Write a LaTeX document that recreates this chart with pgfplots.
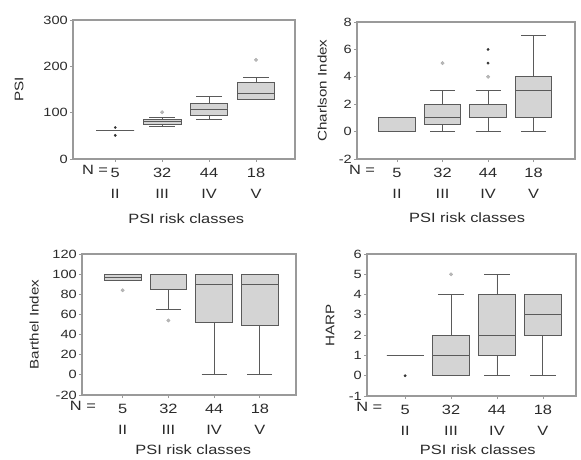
\documentclass[border=0pt]{standalone}
\usepackage{pgfplots}
\pgfplotsset{compat=1.18}
\usepgfplotslibrary{statistics}
\usepackage{fontspec}
\setmainfont{Liberation Sans}[FakeStretch=1.22]
\definecolor{framec}{HTML}{9A9A9A}
\definecolor{boxfill}{HTML}{D4D4D4}
\definecolor{boxline}{HTML}{5A5A5A}
\definecolor{txt}{HTML}{2A2A2A}
\pgfplotsset{
 panel/.style={
  scale only axis,
  axis line style={framec, line width=1.3pt},
  every tick/.style={framec, line width=0.8pt},
  tick align=outside, major tick length=3bp,
  ytick pos=left, xtick pos=bottom,
  xtick={1,2,3,4}, xticklabels={5\\II,32\\III,44\\IV,18\\V},
  xticklabel style={align=center, font=\fontsize{13.5}{21}\selectfont, text=txt, inner sep=1.5bp, yshift=-4.5bp},
  yticklabel style={font=\fontsize{12}{13}\selectfont, text=txt, inner sep=2bp},
  /pgf/number format/assume math mode=true,
  extra x tick style={major tick length=0pt},
  extra x tick labels={N =\\\phantom{I}},
  xlabel={PSI risk classes},
  xlabel style={font=\fontsize{13.5}{15}\selectfont, text=txt},
  ylabel style={font=\fontsize{12.5}{15}\selectfont, text=txt},
  boxplot/draw direction=y,
 },
 bx/.style={draw=boxline, fill=boxfill, line width=0.9pt, solid, boxplot/box extend=0.8, boxplot/whisker extend=0.55},
 outl/.style={only marks, mark=*, mark size=1.7pt, mark options={draw=gray!65, fill=gray!55}},
 extr/.style={only marks, mark=*, mark size=1.2pt, mark options={draw=black!80, fill=black!80}},
}
\begin{document}
\begin{tikzpicture}
\useasboundingbox (0,0) rectangle (581bp,-460bp);
% Panel 1: PSI
\begin{axis}[panel, at={(73bp,-20bp)}, anchor=north west, width=222bp, height=139bp,
  xmin=0.1, xmax=4.83, ymin=0, ymax=300, ytick={0,100,200,300},
  extra x ticks={0.57},
  ylabel={PSI}, ylabel style={at={(axis description cs:-0.243,0.5)}, anchor=center},
  xlabel style={at={(axis description cs:0.51,-0.43)}, anchor=center}]
\addplot[bx, boxplot prepared={draw position=1, lower whisker=62, lower quartile=62, median=62, upper quartile=62, upper whisker=62}] coordinates {};
\addplot[bx, boxplot prepared={draw position=2, lower whisker=71, lower quartile=74, median=80, upper quartile=86, upper whisker=89}] coordinates {};
\addplot[bx, boxplot prepared={draw position=3, lower whisker=86, lower quartile=95, median=108, upper quartile=120, upper whisker=134}] coordinates {};
\addplot[bx, boxplot prepared={draw position=4, lower whisker=128, lower quartile=129, median=142, upper quartile=165, upper whisker=175}] coordinates {};
\addplot[outl] coordinates {(2,101) (4,214)};
\addplot[extr] coordinates {(1,68) (1,51)};
\end{axis}
% Panel 2: Charlson
\begin{axis}[panel, at={(357bp,-22bp)}, anchor=north west, width=218bp, height=137bp,
  xmin=0.12, xmax=4.91, ymin=-2, ymax=8, ytick={-2,0,2,4,6,8},
  extra x ticks={0.23},
  ylabel={Charlson Index}, ylabel style={at={(axis description cs:-0.16,0.5)}, anchor=center},
  xlabel style={at={(axis description cs:0.505,-0.43)}, anchor=center}]
\addplot[bx, boxplot prepared={draw position=1, lower whisker=0, lower quartile=0, median=1, upper quartile=1, upper whisker=1}] coordinates {};
\addplot[bx, boxplot prepared={draw position=2, lower whisker=0, lower quartile=0.5, median=1, upper quartile=2, upper whisker=3}] coordinates {};
\addplot[bx, boxplot prepared={draw position=3, lower whisker=0, lower quartile=1, median=1, upper quartile=2, upper whisker=3}] coordinates {};
\addplot[bx, boxplot prepared={draw position=4, lower whisker=0, lower quartile=1, median=3, upper quartile=4, upper whisker=7}] coordinates {};
\addplot[outl] coordinates {(2,5) (3,4)};
\addplot[extr] coordinates {(3,5) (3,6)};
\end{axis}
% Panel 3: Barthel
\begin{axis}[panel, at={(82bp,-254bp)}, anchor=north west, width=214bp, height=141bp,
  xmin=0.11, xmax=4.79, ymin=-20, ymax=120, ytick={-20,0,20,40,60,80,100,120},
  extra x ticks={0.13},
  ylabel={Barthel Index}, ylabel style={at={(axis description cs:-0.224,0.5)}, anchor=center},
  xlabel style={at={(axis description cs:0.52,-0.385)}, anchor=center}]
\addplot[bx, boxplot prepared={draw position=1, lower whisker=94, lower quartile=94, median=97, upper quartile=100, upper whisker=100}] coordinates {};
\addplot[bx, boxplot prepared={draw position=2, lower whisker=65, lower quartile=85, median=100, upper quartile=100, upper whisker=100}] coordinates {};
\addplot[bx, boxplot prepared={draw position=3, lower whisker=0, lower quartile=52, median=90, upper quartile=100, upper whisker=100}] coordinates {};
\addplot[bx, boxplot prepared={draw position=4, lower whisker=0, lower quartile=49, median=90, upper quartile=100, upper whisker=100}] coordinates {};
\addplot[outl] coordinates {(1,84) (2,54)};
\end{axis}
% Panel 4: HARP
\begin{axis}[panel, at={(367bp,-254bp)}, anchor=north west, width=209bp, height=142bp,
  xmin=0.17, xmax=4.72, ymin=-1, ymax=6, ytick={-1,0,1,2,3,4,5,6},
  extra x ticks={0.22},
  ylabel={HARP}, ylabel style={at={(axis description cs:-0.177,0.5)}, anchor=center},
  xlabel style={at={(axis description cs:0.53,-0.38)}, anchor=center}]
\addplot[bx, boxplot prepared={draw position=1, lower whisker=1, lower quartile=1, median=1, upper quartile=1, upper whisker=1}] coordinates {};
\addplot[bx, boxplot prepared={draw position=2, lower whisker=0, lower quartile=0, median=1, upper quartile=2, upper whisker=4}] coordinates {};
\addplot[bx, boxplot prepared={draw position=3, lower whisker=0, lower quartile=1, median=2, upper quartile=4, upper whisker=5}] coordinates {};
\addplot[bx, boxplot prepared={draw position=4, lower whisker=0, lower quartile=2, median=3, upper quartile=4, upper whisker=4}] coordinates {};
\addplot[outl] coordinates {(2,5)};
\addplot[extr] coordinates {(1,0)};
\end{axis}
\end{tikzpicture}
\end{document}
